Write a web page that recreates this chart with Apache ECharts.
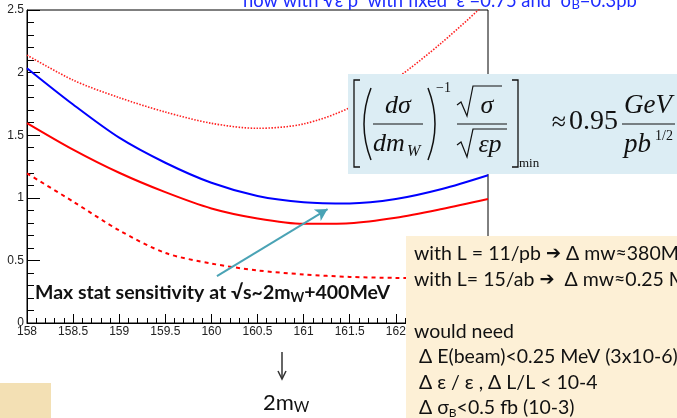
<!DOCTYPE html>
<html><head><meta charset="utf-8">
<script src="https://cdn.jsdelivr.net/npm/echarts@6/dist/echarts.min.js"></script>
<style>html,body{margin:0;padding:0;background:#fff;}#c{width:677px;height:418px;}</style>
</head><body><div id="c"></div>
<script>
// ---- data ----
const xValues   = [158, 158.5, 159, 159.5, 160, 160.5, 161, 161.5, 162, 162.5, 163];
const blueSolid = [2.035, 1.745, 1.48, 1.28, 1.12, 1.015, 0.965, 0.955, 0.99, 1.07, 1.18];
const redSolid  = [1.597, 1.385, 1.20, 1.045, 0.915, 0.835, 0.792, 0.797, 0.84, 0.91, 0.99];
const redDashed = [1.195, 0.97, 0.74, 0.56, 0.475, 0.42, 0.388, 0.368, 0.36, 0.358, 0.36];
const redDotted = [2.14, 1.94, 1.80, 1.685, 1.595, 1.555, 1.59, 1.72, 1.95, 2.24, 2.57];
const arrowStart = [160.06, 0.375];
const arrowEnd   = [161.26, 0.91];
const titleText = 'now with √ε p  with fixed  ε =0.75 and  σ';
const annotationText = 'Max stat sensitivity at √s~2m';
const noteLines = [
  ['with L = 11/pb ', ' Δ mw≈380MeV'],
  ['with L= 15/ab ', '  Δ mw≈0.25 MeV'],
  null,
  ['would need'],
  [' Δ E(beam)<0.25 MeV (3x10-6)'],
  [' Δ ε / ε , Δ L/L < 10-4']
];

const pairs = arr => xValues.map((x, i) => [x, arr[i]]);
const chart = echarts.init(document.getElementById('c'), null, {renderer: 'canvas'});

const SANS = 'Lato, "Open Sans", sans-serif';
const SERIF = '"Liberation Serif", "DejaVu Serif", serif';
const Z = 100;

const graphics = [];
// title (cut at top)
graphics.push({type: 'text', x: 243, y: 1.5, z: Z, style: {
  text: '{n|' + titleText + '}{s|B}{n|=0.3pb}',
  fill: '#1e2cff', textVerticalAlign: 'middle',
  rich: {
    n: {font: '18.4px ' + SANS, fill: '#1e2cff', lineHeight: 20},
    s: {font: '13px ' + SANS, fill: '#1e2cff', lineHeight: 9, verticalAlign: 'bottom'}
  }
}});
// annotation
graphics.push({type: 'text', x: 35, y: 293, z: Z, style: {
  text: '{b|' + annotationText + '}{s|W}{b|+400MeV}',
  textVerticalAlign: 'middle',
  rich: {
    b: {font: 'bold 19.5px ' + SANS, fill: '#111', lineHeight: 22},
    s: {font: 'bold 13px ' + SANS, fill: '#111', lineHeight: 11, verticalAlign: 'bottom'}
  }
}});
// formula box
graphics.push({type: 'rect', z: Z, shape: {x: 348, y: 74, width: 329, height: 100}, style: {fill: '#dcedf4'}});
const fz = Z + 1;
const blk = {stroke: '#111', lineWidth: 1.3, fill: null};
graphics.push({type: 'polyline', z: fz, shape: {points: [[360, 80], [354, 80], [354, 167], [360, 167]]}, style: blk});
graphics.push({type: 'polyline', z: fz, shape: {points: [[512, 80], [518, 80], [518, 167], [512, 167]]}, style: blk});
graphics.push({type: 'bezierCurve', z: fz, shape: {x1: 371, y1: 88, x2: 371, y2: 160, cpx1: 357, cpy1: 124}, style: {stroke: '#111', lineWidth: 1.5, fill: null}});
graphics.push({type: 'bezierCurve', z: fz, shape: {x1: 428, y1: 88, x2: 428, y2: 160, cpx1: 442, cpy1: 124}, style: {stroke: '#111', lineWidth: 1.5, fill: null}});
graphics.push({type: 'text', z: fz, x: 398, y: 106, style: {text: 'dσ', font: 'italic 26px ' + SERIF, fill: '#111', textAlign: 'center', textVerticalAlign: 'middle'}});
graphics.push({type: 'line', z: fz, shape: {x1: 373, y1: 124, x2: 423, y2: 124}, style: {stroke: '#111', lineWidth: 1}});
graphics.push({type: 'text', z: fz, x: 373, y: 144, style: {text: 'dm', font: 'italic 26px ' + SERIF, fill: '#111', textVerticalAlign: 'middle'}});
graphics.push({type: 'text', z: fz, x: 407, y: 152, style: {text: 'W', font: 'italic 16px ' + SERIF, fill: '#111', textVerticalAlign: 'middle'}});
graphics.push({type: 'text', z: fz, x: 436, y: 88, style: {text: '−1', font: '14px ' + SERIF, fill: '#111', textVerticalAlign: 'middle'}});
graphics.push({type: 'polyline', z: fz, shape: {points: [[457, 105], [461, 102], [467, 116], [473, 86], [502, 86]]}, style: {stroke: '#111', lineWidth: 1.2, fill: null}});
graphics.push({type: 'text', z: fz, x: 487, y: 106, style: {text: 'σ', font: 'italic 26px ' + SERIF, fill: '#111', textAlign: 'center', textVerticalAlign: 'middle'}});
graphics.push({type: 'line', z: fz, shape: {x1: 457, y1: 124, x2: 507, y2: 124}, style: {stroke: '#111', lineWidth: 1}});
graphics.push({type: 'polyline', z: fz, shape: {points: [[457, 145], [461, 142], [467, 157], [473, 129], [507, 129]]}, style: {stroke: '#111', lineWidth: 1.2, fill: null}});
graphics.push({type: 'text', z: fz, x: 490, y: 145, style: {text: 'εp', font: 'italic 26px ' + SERIF, fill: '#111', textAlign: 'center', textVerticalAlign: 'middle'}});
graphics.push({type: 'text', z: fz, x: 519, y: 164, style: {text: 'min', font: '13px ' + SERIF, fill: '#111', textVerticalAlign: 'middle'}});
graphics.push({type: 'text', z: fz, x: 559, y: 123, style: {text: '≈', font: '26px ' + SERIF, fill: '#111', textAlign: 'center', textVerticalAlign: 'middle'}});
graphics.push({type: 'text', z: fz, x: 569, y: 122, style: {text: '0.95', font: '28px ' + SERIF, fill: '#111', textVerticalAlign: 'middle'}});
graphics.push({type: 'text', z: fz, x: 648, y: 106, style: {text: 'GeV', font: 'italic 27px ' + SERIF, fill: '#111', textAlign: 'center', textVerticalAlign: 'middle'}});
graphics.push({type: 'line', z: fz, shape: {x1: 622, y1: 124, x2: 675, y2: 124}, style: {stroke: '#111', lineWidth: 1}});
graphics.push({type: 'text', z: fz, x: 624, y: 145, style: {text: 'pb', font: 'italic 27px ' + SERIF, fill: '#111', textVerticalAlign: 'middle'}});
graphics.push({type: 'text', z: fz, x: 655, y: 136, style: {text: '1/2', font: '14px ' + SERIF, fill: '#111', textVerticalAlign: 'middle'}});
// note box
graphics.push({type: 'rect', z: Z, shape: {x: 406, y: 236, width: 271, height: 182}, style: {fill: '#fdf0d6'}});
const lineYs = [254, 280, 306, 332, 357, 383];
const esc = s => s.replace(/[{}|]/g, '');
noteLines.forEach((parts, i) => {
  if (!parts) return;
  let txt = '{n|' + esc(parts[0]) + '}';
  if (parts.length > 1) txt += '{a|➔}{n|' + esc(parts[1]) + '}';
  graphics.push({type: 'text', z: fz, x: 414, y: lineYs[i], style: {
    text: txt, textVerticalAlign: 'middle',
    rich: {
      n: {font: '19.5px ' + SANS, fill: '#111', lineHeight: 22},
      a: {font: 'bold 18px "DejaVu Sans", sans-serif', fill: '#111', lineHeight: 22}
    }
  }});
});
graphics.push({type: 'text', z: fz, x: 414, y: 408, style: {
  text: '{n| Δ σ}{s|B}{n|<0.5 fb (10-3)}', textVerticalAlign: 'middle',
  rich: {
    n: {font: '19.5px ' + SANS, fill: '#111', lineHeight: 22},
    s: {font: '12px ' + SANS, fill: '#111', lineHeight: 10, verticalAlign: 'bottom'}
  }
}});
// bottom-left decoration
graphics.push({type: 'rect', z: Z, shape: {x: 0, y: 383, width: 51, height: 35}, style: {fill: '#f3e0b4'}});
// 2mW arrow and label
graphics.push({type: 'line', z: Z, shape: {x1: 282, y1: 352, x2: 282, y2: 378}, style: {stroke: '#333', lineWidth: 1.5}});
graphics.push({type: 'polyline', z: Z, shape: {points: [[278, 371], [282, 379], [286, 371]]}, style: {stroke: '#333', lineWidth: 1.5, fill: null}});
graphics.push({type: 'text', z: Z, x: 263, y: 403, style: {
  text: '{n|2m}{s|W}', textVerticalAlign: 'middle',
  rich: {
    n: {font: '22px ' + SANS, fill: '#111', lineHeight: 24},
    s: {font: '15px ' + SANS, fill: '#111', lineHeight: 14, verticalAlign: 'bottom'}
  }
}});

const option = {
  animation: false,
  backgroundColor: '#ffffff',
  grid: {left: 27, right: 189, top: 10, bottom: 95, show: true, borderColor: '#000', borderWidth: 1, backgroundColor: 'transparent'},
  xAxis: {
    type: 'value', min: 158, max: 163, interval: 0.5,
    axisLine: {lineStyle: {color: '#000', width: 1}},
    axisTick: {inside: true, length: 9, lineStyle: {color: '#000'}},
    minorTick: {show: true, splitNumber: 5, length: 5, lineStyle: {color: '#000'}},
    splitLine: {show: false},
    axisLabel: {margin: 3, color: '#222', fontSize: 12, fontFamily: '"Liberation Sans", Arial, sans-serif'}
  },
  yAxis: {
    type: 'value', min: 0, max: 2.5, interval: 0.5,
    axisLine: {show: true, lineStyle: {color: '#000', width: 1}},
    axisTick: {show: true, inside: true, length: 13, lineStyle: {color: '#000'}},
    minorTick: {show: true, splitNumber: 5, length: 7, lineStyle: {color: '#000'}},
    splitLine: {show: false},
    axisLabel: {margin: 3, color: '#222', fontSize: 12, fontFamily: '"Liberation Sans", Arial, sans-serif'}
  },
  series: [
    {type: 'line', data: pairs(redDotted), smooth: 0.3, showSymbol: false, clip: true,
     lineStyle: {color: '#ff2020', width: 1.6, type: [1.5, 1.5]}},
    {type: 'line', data: pairs(redDashed), smooth: 0.3, showSymbol: false, clip: true,
     lineStyle: {color: '#ff0000', width: 2, type: [4, 4]}},
    {type: 'line', data: pairs(redSolid), smooth: 0.3, showSymbol: false, clip: true,
     lineStyle: {color: '#ff0000', width: 2}},
    {type: 'line', data: pairs(blueSolid), smooth: 0.3, showSymbol: false, clip: true,
     lineStyle: {color: '#0000ff', width: 2},
     markLine: {silent: true, symbol: ['none', 'arrow'], symbolSize: [10, 12], animation: false,
       label: {show: false}, lineStyle: {color: '#4aa3b5', width: 2, type: 'solid'},
       emphasis: {disabled: true},
       data: [[{coord: arrowStart}, {coord: arrowEnd}]]}}
  ],
  graphic: {elements: graphics}
};
chart.setOption(option);
</script></body></html>
